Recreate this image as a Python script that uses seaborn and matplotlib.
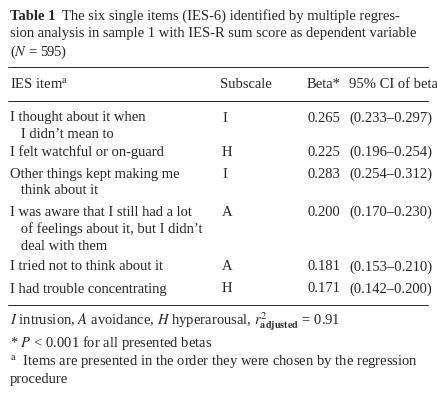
import matplotlib
matplotlib.use("Agg")
import matplotlib.pyplot as plt
import seaborn as sns

sns.set_theme(style="white")
plt.rcParams['font.family'] = ['Liberation Serif', 'DejaVu Serif']
plt.rcParams['mathtext.fontset'] = 'stix'

# table data
items = [
    ["I thought about it when", "   I didn\u2019t mean to"],
    ["I felt watchful or on-guard"],
    ["Other things kept making me", "   think about it"],
    ["I was aware that I still had a lot", "   of feelings about it, but I didn\u2019t", "   deal with them"],
    ["I tried not to think about it"],
    ["I had trouble concentrating"],
]
subscales = ["I", "H", "I", "A", "A", "H"]
betas = [0.265, 0.225, 0.283, 0.200, 0.181, 0.171]
ci_low = [0.233, 0.196, 0.254, 0.170, 0.153, 0.142]
ci_high = [0.297, 0.254, 0.312, 0.230, 0.210, 0.200]
row_y = [118, 152, 174, 212, 267, 289]

W, H = 437, 420
fig = plt.figure(figsize=(W / 100, H / 100), dpi=100)
fs = 10.5


def t(x, y, s, **kw):
    fig.text(x / W, 1 - y / H, s, fontsize=kw.pop('fontsize', fs), va='center', ha='left', **kw)


def rule(y):
    fig.add_artist(plt.Line2D([8 / W, 428 / W], [1 - y / H] * 2, color='black', lw=0.6))


t(10, 16, "Table 1", fontweight='bold')
t(62, 16, "The six single items (IES-6) identified by multiple regres-")
t(10, 34, "sion analysis in sample 1 with IES-R sum score as dependent variable")
t(10, 52, "($\\it{N}$ = 595)")
rule(67)
t(10, 85, "IES item$^{\\mathrm{a}}$")
t(220, 85, "Subscale")
t(307, 85, "Beta*")
t(349, 85, "95% CI of beta")
rule(101)

for lines, sub, b, lo, hi, y in zip(items, subscales, betas, ci_low, ci_high, row_y):
    for k, line in enumerate(lines):
        t(10, y + 17 * k, line)
    t(222, y, sub)
    t(307, y, f"{b:.3f}")
    t(349, y, f"({lo:.3f}\u2013{hi:.3f})")

rule(305)
t(10, 322, "$\\it{I}$ intrusion, $\\it{A}$ avoidance, $\\it{H}$ hyperarousal, "
           "$r^2_{\\mathbf{adjusted}}$ = 0.91")
t(10, 343, "* $\\it{P}$ < 0.001 for all presented betas")
t(10, 362, "$^{\\mathrm{a}}$  Items are presented in the order they were chosen by the regression")
t(10, 380, "procedure")

fig.savefig("out.png", dpi=100, facecolor='white')
